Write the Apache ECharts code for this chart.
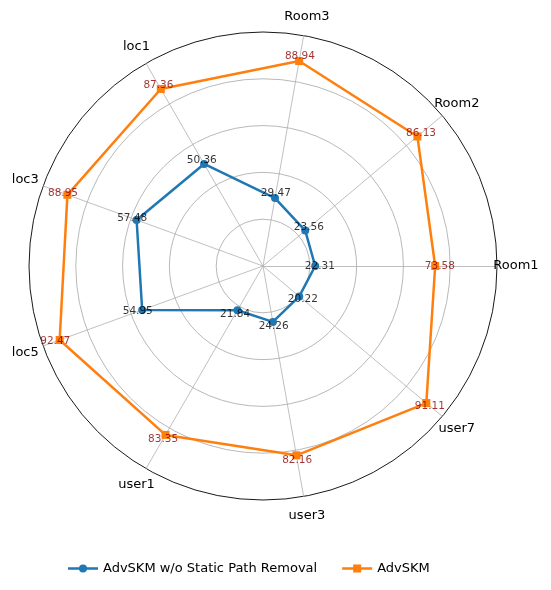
<!DOCTYPE html>
<html>
<head>
<meta charset="utf-8">
<script src="https://cdn.jsdelivr.net/npm/echarts@6/dist/echarts.min.js"></script>
<style>
  html, body { margin: 0; padding: 0; background: #fff; }
  #main { width: 551px; height: 590px; }
</style>
</head>
<body>
<div id="main"></div>
<script>
// categories, counterclockwise from the right
const categories = ['Room1', 'Room2', 'Room3', 'loc1', 'loc3', 'loc5', 'user1', 'user3', 'user7'];
const noStaticRemoval = [22.31, 23.56, 29.47, 50.36, 57.48, 54.95, 21.84, 24.26, 20.22];
const advSKM = [73.58, 86.13, 88.94, 87.36, 88.95, 92.47, 83.35, 82.16, 91.11];
const seriesNames = ['AdvSKM w/o Static Path Removal', 'AdvSKM'];

const cx = 263, cy = 266, R = 234;
const step = 360 / categories.length;

// value labels sit a little outside each point
const labelPoints = (vals) => vals.map((v, i) => [v + 2, i * step, v]);

const lineIcon = 'path://M0,3.75 L30,3.75 L30,6.25 L0,6.25 Z M15,1 A4,4 0 1 1 15,9 A4,4 0 1 1 15,1 Z';
const squareIcon = 'path://M0,3.75 L11,3.75 L11,1 L19,1 L19,3.75 L30,3.75 L30,6.25 L19,6.25 L19,9 L11,9 L11,6.25 L0,6.25 Z';

const option = {
    backgroundColor: '#fff',
    textStyle: { fontFamily: 'DejaVu Sans' },
    legend: {
        data: [
            { name: seriesNames[0], icon: lineIcon },
            { name: seriesNames[1], icon: squareIcon }
        ],
        left: 63,
        top: 557,
        itemWidth: 30,
        itemHeight: 8,
        itemGap: 25,
        textStyle: { fontSize: 13, color: '#000', fontFamily: 'DejaVu Sans' }
    },
    radar: {
        center: [cx, cy],
        radius: R,
        startAngle: 0,
        shape: 'circle',
        splitNumber: 5,
        indicator: categories.map(c => ({ name: c, min: 0, max: 100 })),
        nameGap: 19,
        axisName: {
            color: '#000',
            fontSize: 13,
            fontFamily: 'DejaVu Sans',
            align: 'center',
            verticalAlign: 'middle'
        },
        axisLine: { lineStyle: { color: '#b0b0b0', width: 0.8 } },
        splitLine: {
            lineStyle: {
                color: ['#b0b0b0', '#b0b0b0', '#b0b0b0', '#b0b0b0', '#b0b0b0', '#000'],
                width: 0.9
            }
        },
        splitArea: { show: false },
        axisTick: { show: false },
        axisLabel: { show: false }
    },
    polar: { center: [cx, cy], radius: R },
    angleAxis: { type: 'value', min: 0, max: 360, startAngle: 0, clockwise: false, show: false },
    radiusAxis: { type: 'value', min: 0, max: 100, show: false },
    series: [
        {
            type: 'radar',
            name: seriesNames[0],
            symbol: 'circle',
            symbolSize: 8,
            lineStyle: { width: 2.5, color: '#1f77b4' },
            itemStyle: { color: '#1f77b4' },
            data: [{ name: seriesNames[0], value: noStaticRemoval }]
        },
        {
            type: 'radar',
            name: seriesNames[1],
            symbol: 'rect',
            symbolSize: 8,
            lineStyle: { width: 2.5, color: '#ff7f0e' },
            itemStyle: { color: '#ff7f0e' },
            data: [{ name: seriesNames[1], value: advSKM }]
        },
        {
            type: 'scatter',
            coordinateSystem: 'polar',
            silent: true,
            symbolSize: 0,
            z: 5,
            label: {
                show: true, position: 'inside', fontSize: 10.5, color: '#000',
                formatter: p => p.value[2].toFixed(2)
            },
            data: labelPoints(noStaticRemoval)
        },
        {
            type: 'scatter',
            coordinateSystem: 'polar',
            silent: true,
            symbolSize: 0,
            z: 5,
            label: {
                show: true, position: 'inside', fontSize: 10.5, color: '#8b0000',
                formatter: p => p.value[2].toFixed(2)
            },
            data: labelPoints(advSKM)
        }
    ]
};

const myChart = echarts.init(document.getElementById('main'));
myChart.setOption(option);
</script>
</body>
</html>
